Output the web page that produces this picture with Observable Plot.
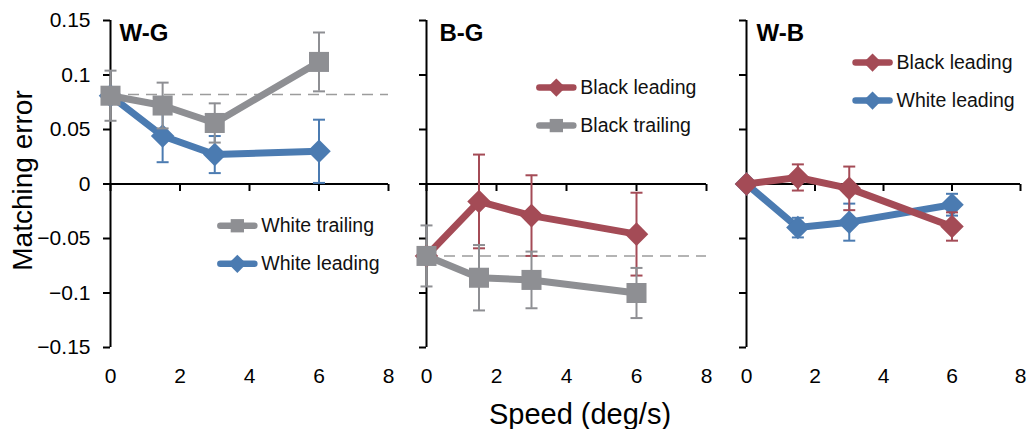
<!DOCTYPE html>
<html><head><meta charset="utf-8">
<script src="https://cdn.jsdelivr.net/npm/d3@7"></script>
<script src="https://cdn.jsdelivr.net/npm/@observablehq/plot@0.6"></script>
<style>
body{margin:0;background:#fff;}
#chart{position:relative;width:1027px;height:429px;overflow:hidden;background:#fff;font-family:"Liberation Sans",Arial,sans-serif;}
.panel{position:absolute;top:0;}
.panel svg{overflow:visible;}
#xlabel{position:absolute;left:380px;width:400px;top:400px;text-align:center;font-size:29px;line-height:29px;color:#000;}
</style></head><body>
<div id="chart"><div id="xlabel">Speed (deg/s)</div></div>
<script>
// ---- data ----
const speeds = [0, 1.5, 3, 6];
const xTicks = [0, 2, 4, 6, 8];
const xTickLabels = ["0", "2", "4", "6", "8"];
const yTicks = [0.15, 0.1, 0.05, 0, -0.05, -0.1, -0.15];
const yTickLabels = ["0.15", "0.1", "0.05", "0", "\u22120.05", "\u22120.1", "\u22120.15"];
const panelNames = ["W-G", "B-G", "W-B"];
const yAxisTitle = "Matching error";

// W-G
const wgWhiteLeading = [0.081, 0.044, 0.027, 0.030];
const wgWhiteLeadingErr = [0.003, 0.024, 0.017, 0.029];
const wgWhiteTrailing = [0.081, 0.072, 0.056, 0.112];
const wgWhiteTrailingErr = [0.023, 0.021, 0.018, 0.027];
const wgBaseline = 0.082;
// B-G
const bgBlackLeading = [-0.066, -0.016, -0.029, -0.046];
const bgBlackLeadingErr = [0.003, 0.043, 0.037, 0.038];
const bgBlackTrailing = [-0.066, -0.086, -0.088, -0.100];
const bgBlackTrailingErr = [0.028, 0.030, 0.026, 0.023];
const bgBaseline = -0.066;
// W-B
const wbBlackLeading = [0, 0.006, -0.004, -0.039];
const wbBlackLeadingErr = [0, 0.012, 0.020, 0.013];
const wbWhiteLeading = [0, -0.040, -0.035, -0.019];
const wbWhiteLeadingErr = [0, 0.009, 0.017, 0.010];

// ---- styles ----
const colors = {gray: "#8e8f93", blue: "#4b7bb1", red: "#a44b56"};
const symbols = {gray: "square", blue: "diamond2", red: "diamond2"};
const markerR = {square: 11.3, diamond2: 10.6};
const legendMarkerR = {square: 7.5, diamond2: 8.2};
const tickFontSize = 21;

function rows(values, errs) {
  return speeds.map((x, i) => ({x, y: values[i], lo: values[i] - errs[i], hi: values[i] + errs[i], e: errs[i]}));
}

const panels = [
  {name: panelNames[0], left: 0, width: 398, marginLeft: 110, marginRight: 10, first: true, titleDx: 9,
   baseline: wgBaseline,
   series: [
     {name: "White leading", kind: "blue", data: rows(wgWhiteLeading, wgWhiteLeadingErr)},
     {name: "White trailing", kind: "gray", data: rows(wgWhiteTrailing, wgWhiteTrailingErr)}
   ],
   legendOrder: [1, 0], legendX: 3.65, legendY: [-0.0383, -0.0732]},
  {name: panelNames[1], left: 406, width: 310, marginLeft: 20, marginRight: 10, first: false, titleDx: 13,
   baseline: bgBaseline,
   series: [
     {name: "Black leading", kind: "red", data: rows(bgBlackLeading, bgBlackLeadingErr)},
     {name: "Black trailing", kind: "gray", data: rows(bgBlackTrailing, bgBlackTrailingErr)}
   ],
   legendOrder: [0, 1], legendX: 3.71, legendY: [0.0885, 0.0536]},
  {name: panelNames[2], left: 726, width: 301, marginLeft: 20, marginRight: 7, first: false, titleDx: 10,
   baseline: null,
   series: [
     {name: "White leading", kind: "blue", data: rows(wbWhiteLeading, wbWhiteLeadingErr)},
     {name: "Black leading", kind: "red", data: rows(wbBlackLeading, wbBlackLeadingErr)}
   ],
   legendOrder: [1, 0], legendX: 3.68, legendY: [0.1114, 0.0765]}
];

const hCap = {draw(ctx, size) { const r = Math.sqrt(size / Math.PI); ctx.moveTo(-r, 0); ctx.lineTo(r, 0); }};
const vTick = {draw(ctx, size) { const r = Math.sqrt(size / Math.PI); ctx.moveTo(0, 0); ctx.lineTo(0, r); }};

function makePanel(cfg) {
  const marks = [];
  if (cfg.baseline != null) {
    marks.push(Plot.ruleY([cfg.baseline], {stroke: "#9c9c9c", strokeWidth: 1.5, strokeDasharray: "11,7"}));
  }
  marks.push(Plot.ruleY([0], {stroke: "#000", strokeWidth: 2}));
  marks.push(Plot.ruleX([0], {stroke: "#000", strokeWidth: 2}));
  marks.push(Plot.dot(xTicks, {x: d => d, y: () => 0, symbol: vTick, r: 7, stroke: "#000", strokeWidth: 2, fill: "none"}));
  marks.push(Plot.axisY({ticks: yTicks, tickSize: 7, tickPadding: 13, strokeWidth: 2, label: null, fontSize: tickFontSize,
    tickFormat: cfg.first ? (d => yTickLabels[yTicks.indexOf(d)]) : (() => "")}));
  marks.push(Plot.axisX({ticks: xTicks, tickSize: 0, tickPadding: 21, label: null, fontSize: tickFontSize,
    tickFormat: d => xTickLabels[xTicks.indexOf(d)]}));
  for (const s of cfg.series) {
    const c = colors[s.kind], sym = symbols[s.kind];
    const eb = s.data.filter(d => d.e > 0);
    marks.push(Plot.ruleX(eb, {x: "x", y1: "lo", y2: "hi", stroke: c, strokeWidth: 2}));
    marks.push(Plot.dot(eb, {x: "x", y: "hi", symbol: hCap, r: 6, stroke: c, strokeWidth: 2, fill: "none"}));
    marks.push(Plot.dot(eb, {x: "x", y: "lo", symbol: hCap, r: 6, stroke: c, strokeWidth: 2, fill: "none"}));
    marks.push(Plot.line(s.data, {x: "x", y: "y", stroke: c, strokeWidth: 7, strokeLinejoin: "round", strokeLinecap: "round"}));
    marks.push(Plot.dot(s.data, {x: "x", y: "y", symbol: sym, r: markerR[sym], fill: c, stroke: "none"}));
  }
  // title
  marks.push(Plot.text([cfg.name], {text: d => d, frameAnchor: "top-left", dx: cfg.titleDx, dy: 3, lineAnchor: "top",
    textAnchor: "start", fontWeight: "bold", fontSize: 24, fill: "#000"}));
  // legend
  cfg.legendOrder.forEach((si, i) => {
    const s = cfg.series[si];
    const c = colors[s.kind], sym = symbols[s.kind];
    const pos = [{x: cfg.legendX, y: cfg.legendY[i]}];
    marks.push(Plot.dot(pos, {x: "x", y: "y", symbol: hCap, r: 17, stroke: c, strokeWidth: 6.5, strokeLinecap: "round", fill: "none"}));
    marks.push(Plot.dot(pos, {x: "x", y: "y", symbol: sym, r: legendMarkerR[sym], fill: c, stroke: "none"}));
    marks.push(Plot.text(pos, {x: "x", y: "y", text: () => s.name, dx: 24, textAnchor: "start", fontSize: 19.5, fill: "#111"}));
  });
  if (cfg.first) {
    marks.push(Plot.text([yAxisTitle], {text: d => d, frameAnchor: "left", dx: -87.5, dy: -3.5, rotate: -90,
      fontSize: 28, textAnchor: "middle", fill: "#000"}));
  }
  return Plot.plot({
    width: cfg.width, height: 395,
    marginLeft: cfg.marginLeft, marginRight: cfg.marginRight, marginTop: 20, marginBottom: 48,
    x: {domain: [0, 8], label: null},
    y: {domain: [-0.15, 0.15], label: null},
    style: {fontSize: "19.5px", fontFamily: "'Liberation Sans', Arial, sans-serif", overflow: "visible", color: "#000", background: "transparent"},
    marks
  });
}

const chart = document.getElementById("chart");
for (const cfg of panels) {
  const div = document.createElement("div");
  div.className = "panel";
  div.style.left = cfg.left + "px";
  div.appendChild(makePanel(cfg));
  chart.appendChild(div);
}
</script>
</body></html>
